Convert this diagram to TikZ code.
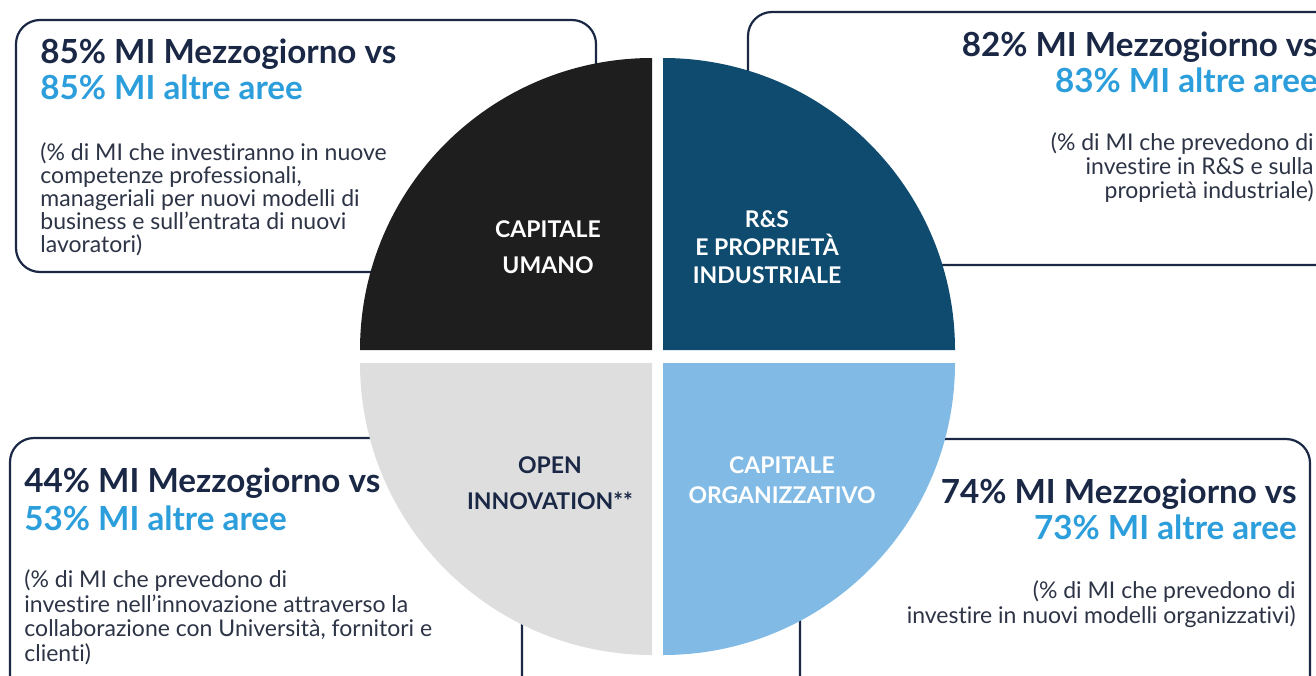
\documentclass[tikz,border=0pt]{standalone}
\usepackage{fontspec}
\setmainfont{Lato}[Ligatures=NoCommon]
\definecolor{navy}{RGB}{26,40,70}
\definecolor{sky}{RGB}{44,158,219}
\definecolor{notegray}{RGB}{45,52,70}
\definecolor{umano}{RGB}{30,30,30}
\definecolor{ricerca}{RGB}{14,75,111}
\definecolor{openinn}{RGB}{222,222,222}
\definecolor{organizz}{RGB}{129,187,229}
\begin{document}
\begin{tikzpicture}[x=0.5pt,y=-0.5pt,
    infobox/.style={draw=navy,line width=1.1pt,fill=white,rounded corners=12pt},
    headA/.style={inner sep=0pt,text=navy,font=\bfseries\fontsize{16.6}{19}\selectfont},
    headB/.style={headA,text=sky},
    note/.style={inner sep=0pt,text=notegray,font=\fontsize{11.5}{11.5}\selectfont},
    quarter/.style={inner sep=0pt,align=center,font=\bfseries\fontsize{11.5}{18}\selectfont}]
  \useasboundingbox (0,0) rectangle (1316,675);
  \clip (0,0) rectangle (1316,675);
  % boxes behind the pie
  \draw[infobox] (16,20) rectangle (596,272);
  \draw[infobox] (748,12) rectangle (1340,265);
  \draw[infobox] (10,438) rectangle (522,700);
  \draw[infobox] (800,439) rectangle (1310,700);
  % the four quarters
  \fill[umano] (652,350) -- ++(180:146pt) arc[start angle=180,end angle=90,radius=146pt] -- cycle;
  \fill[ricerca] (663,350) -- ++(90:146pt) arc[start angle=90,end angle=0,radius=146pt] -- cycle;
  \fill[openinn] (652,363) -- ++(180:146pt) arc[start angle=180,end angle=270,radius=146pt] -- cycle;
  \fill[organizz] (663,363) -- ++(270:146pt) arc[start angle=270,end angle=360,radius=146pt] -- cycle;
  % labels: anchor base is the last line
  \node[quarter,text=white,anchor=base] (qumano) at (548,273) {CAPITALE\\UMANO};
  \node[quarter,text=white,anchor=base,font=\bfseries\fontsize{11.5}{14}\selectfont] (qricerca) at (767,283) {R\&S\\E PROPRIETÀ\\INDUSTRIALE};
  \node[quarter,text=navy,anchor=base] (qopen) at (550,509) {OPEN\\INNOVATION**};
  \node[quarter,text=white,anchor=base,font=\bfseries\fontsize{11.5}{15}\selectfont] (qorg) at (782,503) {CAPITALE\\ORGANIZZATIVO};
  % top left
  \node[headA,anchor=base west] (umanoA) at (40,63) {85\% MI Mezzogiorno vs};
  \node[headB,anchor=base west] (umanoB) at (40,99) {85\% MI altre aree};
  \node[note,anchor=base west,align=left] (umanoC) at (40,252)
    {(\% di MI che investiranno in nuove\\competenze professionali,\\manageriali per nuovi modelli di\\business e sull’entrata di nuovi\\lavoratori)};
  % top right
  \node[headA,anchor=base east] (ricercaA) at (1318,56) {82\% MI Mezzogiorno vs};
  \node[headB,anchor=base east] (ricercaB) at (1318,92) {83\% MI altre aree};
  \node[note,anchor=base east,align=right,font=\fontsize{11.5}{12}\selectfont] (ricercaC) at (1314,198)
    {(\% di MI che prevedono di\\investire in R\&S e sulla\\proprietà industriale)};
  % bottom left
  \node[headA,anchor=base west] (openA) at (24,492) {44\% MI Mezzogiorno vs};
  \node[headB,anchor=base west] (openB) at (24,530) {53\% MI altre aree};
  \node[note,anchor=base west,align=left,font=\fontsize{11.5}{12.2}\selectfont] (openC) at (24,661)
    {(\% di MI che prevedono di\\investire nell’innovazione attraverso la\\collaborazione con Università, fornitori e\\clienti)};
  % bottom right
  \node[headA,anchor=base east] (orgA) at (1297,503) {74\% MI Mezzogiorno vs};
  \node[headB,anchor=base east] (orgB) at (1297,539) {73\% MI altre aree};
  \node[note,anchor=base east,align=right,font=\fontsize{11.5}{12.5}\selectfont] (orgC) at (1296,623)
    {(\% di MI che prevedono di\\investire in nuovi modelli organizzativi)};
\end{tikzpicture}
\end{document}
